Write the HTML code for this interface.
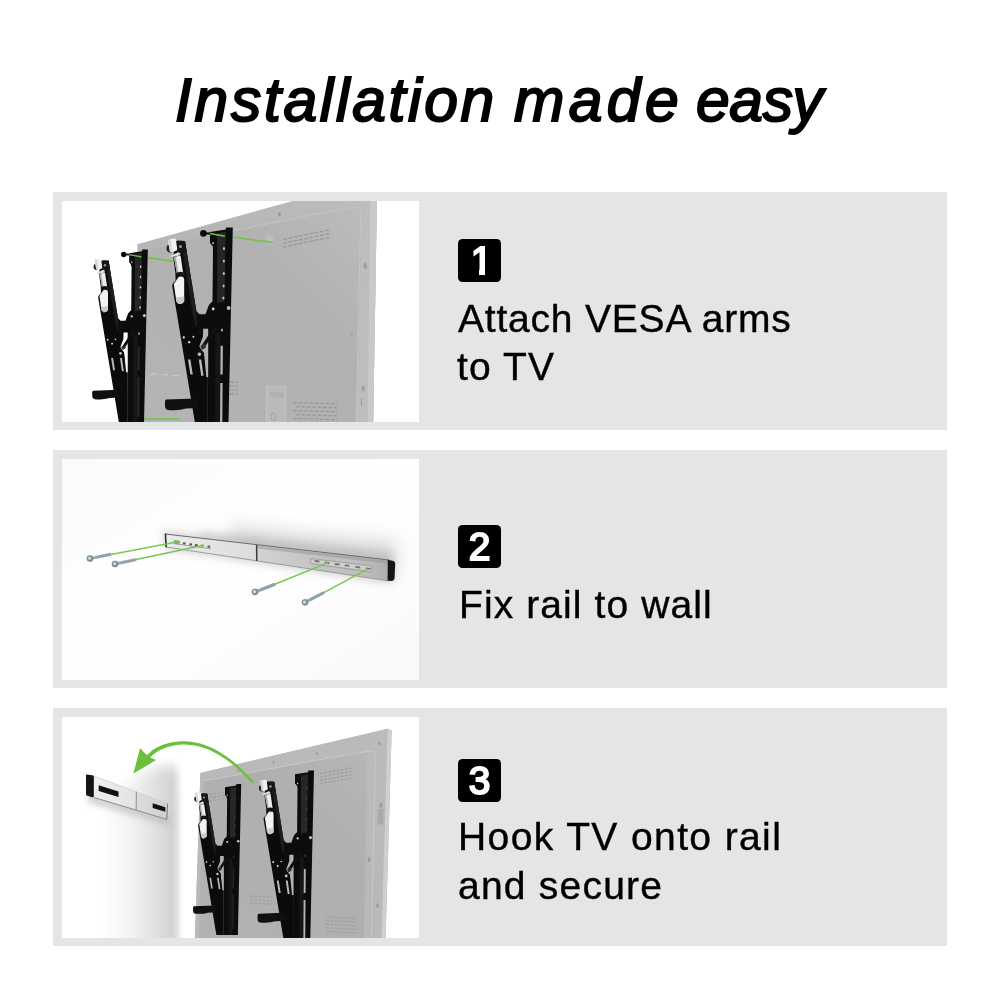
<!DOCTYPE html>
<html lang="en">
<head>
<meta charset="utf-8">
<title>Installation made easy</title>
<style>
html,body{margin:0;padding:0;background:#fff;}
body{width:1000px;height:1000px;position:relative;overflow:hidden;font-family:"Liberation Sans",sans-serif;color:#000;}
h1{margin:0;font-weight:400;font-size:65px;}
h1 span{will-change:transform;position:absolute;top:70px;font-style:italic;font-size:60.5px;line-height:1;white-space:nowrap;-webkit-text-stroke:2px #000;}
.panel{position:absolute;left:53px;width:893.5px;height:238px;background:#e4e5e7;}
.pic{position:absolute;left:62px;width:356.7px;height:220.8px;background:#fff;overflow:hidden;}
.badge{will-change:transform;position:absolute;left:458px;width:43px;height:43px;border-radius:4.5px;background:#000;color:#fff;font-weight:400;font-size:39px;line-height:43px;text-align:center;-webkit-text-stroke:2px #fff;}
.ln{will-change:transform;position:absolute;margin:0;font-size:39px;line-height:1;white-space:nowrap;-webkit-text-stroke:.4px #000;}
.b1{text-indent:4px;}
.b1::before,.b1::after{content:"";position:absolute;top:30px;height:9px;background:#000;}
.b1::before{left:6px;width:15.1px;}
.b1::after{left:27.4px;width:10px;}
svg{position:absolute;left:0;top:0;display:block;}
</style>
</head>
<body>
<h1><span style="left:174.6px;letter-spacing:2.73px">Installation</span><span style="left:513.6px;letter-spacing:4.4px">made</span><span style="left:696px;letter-spacing:-.33px">easy</span></h1>

<div class="panel" style="top:192px"></div>
<div class="panel" style="top:450px"></div>
<div class="panel" style="top:708px"></div>

<div class="pic" id="pic1" style="top:201px">
<!--PIC1--><svg width="356.7" height="220.8" viewBox="62 201 356.7 220.8">
<defs>
<linearGradient id="tv1" gradientUnits="userSpaceOnUse" x1="150" y1="420" x2="370" y2="205">
<stop offset="0" stop-color="#b4b4b4"/><stop offset=".6" stop-color="#b1b1b1"/><stop offset="1" stop-color="#bcbcbc"/>
</linearGradient>
<g id="arm">
 <!-- diagonal bar -->
 <path d="M173.6,254 L177.5,240.5 L185,241 L197,315 L204.2,353 L207.8,379 L207.8,440 L197.8,440 L175.4,305 L172.2,286 L172.6,284 L175.6,280.5 L175.4,273 L173.4,258 Z" fill="#0b0b0b"/>
 <path d="M180.6,241 L185,241 L197,315 L199,326 L195.4,326 L193,315 Z" fill="#1e1e1e"/>
 <!-- linkage -->
 <path d="M196.3,311 L199.5,314.2 L205.5,314.2 L208.5,306 L213,301 L213,345 L200.5,346 L197,330 Z" fill="#0d0d0d"/>
 <!-- vertical bar -->
 <path d="M210,232 L225.8,229.6 L226,227.5 L232.8,227.4 L228.1,440 L207.6,440 L207.8,312 L209,305 L212.5,301.5 L213,249 Q212.8,245 210,243 Z" fill="#0c0c0c"/>
 <path d="M217.2,233.2 L225.6,231.8 L224.6,302 L217,303 Z" fill="#262626"/>
 <path d="M215.5,332 L220.6,332 L220.2,440 L215,440 Z" fill="#161616"/>
 <!-- gap sliver showing TV -->
 <path d="M203.2,328.7 L208.2,328.7 L208.2,377 L206.3,377 L204.1,353 L202,350.5 L199.3,346.3 L203,336.5 Z" style="fill:var(--gap,#b3b3b3)"/>
 <path d="M217,325.5 L202.2,347.8" stroke="#111" stroke-width="3.6" fill="none"/>
 <!-- slots in vertical -->
 <path d="M220.6,345.8 L222.9,345.8 L222.7,374.6 L220.4,374.6 Z M220.3,383 L222.6,383 L222.3,432 L220,432 Z" style="fill:var(--slot,#b3b3b3)"/>
 <g style="fill:var(--hole,#c4c4c4)">
  <ellipse cx="224" cy="248.5" rx="1" ry="1.5"/><ellipse cx="223.9" cy="261" rx="1" ry="1.5"/><ellipse cx="223.8" cy="273.5" rx="1" ry="1.5"/><ellipse cx="223.6" cy="286" rx="1" ry="1.5"/><ellipse cx="223.4" cy="298" rx="1" ry="1.5"/>
  <ellipse cx="222" cy="330" rx=".9" ry="1.6"/>
 </g>
 <rect x="212.4" y="242.2" width="1.4" height="1.6" fill="#e8e8e8"/>
 <circle cx="228.6" cy="308" r="1.9" fill="#a8c4d2"/><circle cx="213.2" cy="309" r="1.4" fill="#cfd9de"/>
 <!-- diag details -->
 <path d="M188,359.6 L190.4,359.6 L192.8,374.6 L190.4,374.6 Z M198.8,359.6 L201.2,359.6 L203.6,375.8 L201.2,375.8 Z" fill="#b9b9b9"/>
 <circle cx="183.8" cy="337.4" r="1.1" fill="#eee"/><circle cx="189.2" cy="342.2" r="1.1" fill="#eee"/><circle cx="193.4" cy="336.8" r="1" fill="#ddd"/>
 <circle cx="199.4" cy="354.2" r="1.7" fill="#a5cbe0"/>
 <path d="M200.5,346 L204.5,343.5 L206,347.5 L202,350 Z" fill="#2e2e2e"/>
 <!-- foot -->
 <path d="M166.5,399.5 L196,398.4 L199,408 L186,408.6 Q179,411 168,410 Q165,409.6 165,405.5 L165,401.2 Q165,399.6 166.5,399.5 Z" fill="#101010"/>
 <!-- hook -->
 <path d="M175,241 L185,241 L186.6,252.5 L177,253 Z" fill="#161616"/>
 <path d="M167.6,245 Q165.6,248.5 167.2,251 Q169,253.2 171.6,252.2 L170.4,246 Z" fill="#222"/>
 <path d="M168.2,241.2 Q168,239.8 169.4,239.4 L174.2,238.4 Q175.6,238.2 175.9,239.6 L177.2,249 Q177.4,250.4 176,250.8 L171.4,252 Q170,252.2 169.7,250.8 Z" fill="#f0f0f0"/>
 <path d="M168.2,241.2 L169.7,250.8 Q170,252.2 171.4,252 L172.4,251.7 L170.6,239.2 L169.4,239.4 Q168,239.8 168.2,241.2 Z" fill="#d4d4d4"/>
 <circle cx="180.5" cy="246.5" r="1.5" fill="#9a9a9a"/>
 <path d="M170.4,256 L178,252.2 L180.6,253.2 L179.4,255.6 L171.8,257 Z" fill="#dcdcdc"/>
 <path d="M174,257 L180.6,255.4 L183.4,275 L177.2,275 Z" fill="#ededed"/>
 <path d="M174,257 L175.8,256.6 L178.8,275 L177.2,275 Z" fill="#a9a9a9"/>
 <path d="M176,273.4 Q179.4,270.6 183.4,272.6 L184.2,280 L176.4,281 Z" fill="#131313"/>
 <path d="M173.8,284 L178.6,277 Q181,276 183.6,277.4 L184.2,279.5 L184.2,301.5 Q182,304.4 178.8,304 L176.4,301.6 Z" fill="#f3f3f3"/>
 <path d="M175.8,297.5 L184.2,296.6 L184.2,301.5 Q182,304.4 178.8,304 L176.4,301.6 Z" fill="#c9c9c9"/>
</g>
<g id="bolt">
 <path d="M209.8,233.6 L225,236.3" stroke="#6cc644" stroke-width="1.5" fill="none"/>
 <circle cx="203.4" cy="233.4" r="3.3" fill="#0a0a0a"/><rect x="205.5" y="232.4" width="4.6" height="2.2" fill="#0a0a0a"/>
</g>
</defs>
<!-- TV -->
<path d="M137.6,244.2 L292.9,201 L376.9,201 L373.2,422 L137.6,422 Z" fill="url(#tv1)"/>
<path d="M137.6,244.2 L292.9,201 L376.9,201 L376.7,210 L360,206 L310,215.2 L234,230.4 L137.6,252 Z" fill="#bcbcbc" opacity=".5"/>
<path d="M360,206 Q361.8,208 361.6,214 L357,422 L373.2,422 L376.9,201 L340,201 Z" fill="#bdbdbd"/>
<path d="M370.3,201 L376.9,201 L373.2,422 L367.6,422 Z" fill="#c9c9c9"/>
<path d="M234,230.6 L310,215.4 L352,207.4 Q360.9,205.6 360.7,214 L356.2,422" fill="none" stroke="#c6c6c6" stroke-width=".9"/>
<!-- details on TV -->
<circle cx="269.5" cy="240" r="4.6" fill="#bcbcbc"/>
<ellipse cx="279.6" cy="214.2" rx="1.2" ry="1.8" fill="#8e8e8e"/>
<ellipse cx="365.3" cy="266" rx="1.8" ry="3.2" fill="#9f9f9f"/><ellipse cx="351.5" cy="333.5" rx="1.6" ry="2.8" fill="#a8a8a8"/><ellipse cx="363.2" cy="388.5" rx="1.6" ry="2.8" fill="#9f9f9f"/>
<rect x="361" y="398" width="1" height="8" fill="#999"/>
<g stroke="#999" stroke-width="1.3" stroke-dasharray="4 1.4" fill="none">
<path d="M283,239.6 L330,229.6"/><path d="M283,243.4 L330,233.4"/><path d="M283,247.2 L330,237.2"/>
<path d="M293,402.5 L337,403.8"/><path d="M296,406.5 L337,407.8"/><path d="M293,410.5 L337,411.8"/><path d="M296,414.5 L337,415.8"/><path d="M293,418.5 L337,419.8"/>
<path d="M230,382 L238,382.4"/><path d="M230,386 L238,386.4"/><path d="M230,390 L238,390.4"/><path d="M230,394 L238,394.4"/>
</g>
<path d="M266.5,386.5 L285.5,387 L285.5,422 L266.5,422 Z" fill="#bababa" stroke="#c6c6c6" stroke-width=".8"/>
<path d="M270,392 L284,392.6 L284,398 L270,397.4 Z" fill="#b0b0b0"/>
<ellipse cx="273.5" cy="417" rx="2.2" ry="4" fill="none" stroke="#a2a2a2" stroke-width="1"/>
<path d="M150,375.5 L153,373.5 L158,374.5 M161,375 L168,374.6 M171,375.5 L179,375.8" stroke="#d0d0d0" stroke-width="1.6" fill="none" opacity=".6"/>
<!-- green lines behind arms -->
<path d="M233,237.3 L273,242.4 M148,257.6 L173.5,261.2 M144.5,419 L180.4,419" stroke="#6cc644" stroke-width="1.6" fill="none"/>
<!-- arms -->
<g transform="translate(148 250) scale(.82) translate(-233 -228)" style="--gap:#fff;--slot:#2a2a2a"><use href="#arm"/><use href="#bolt"/></g>
<use href="#arm"/><use href="#bolt"/>
</svg>
<!--/PIC1-->
</div>
<div class="pic" id="pic2" style="top:459px">
<!--PIC2--><svg width="356.7" height="220.8" viewBox="62 459 356.7 220.8">
<defs>
<filter id="bl2" x="-20%" y="-100%" width="140%" height="300%"><feGaussianBlur stdDeviation="4"/></filter>
<filter id="bl2c" x="-20%" y="-150%" width="140%" height="400%"><feGaussianBlur stdDeviation="8"/></filter>
<filter id="bl2b" x="-20%" y="-100%" width="140%" height="300%"><feGaussianBlur stdDeviation="2"/></filter>
<linearGradient id="rail2" gradientUnits="userSpaceOnUse" x1="165" y1="0" x2="390" y2="0">
<stop offset="0" stop-color="#ececec"/><stop offset=".405" stop-color="#dcdcdc"/><stop offset=".41" stop-color="#d2d2d2"/><stop offset=".7" stop-color="#c2c2c2"/><stop offset=".9" stop-color="#bdbdbd"/><stop offset="1" stop-color="#acacac"/>
</linearGradient>
<linearGradient id="bg2" x1="0" y1="0" x2="1" y2="1"><stop offset="0" stop-color="#fbfbfb"/><stop offset=".5" stop-color="#fff"/><stop offset="1" stop-color="#f9f9f9"/></linearGradient>
<g id="screw2">
 <path d="M0,0 L21,-4.4" stroke="#9aa9b0" stroke-width="3" stroke-linecap="butt" fill="none"/>
 <path d="M7,-1.5 L21,-4.4" stroke="#7f8f97" stroke-width="3" stroke-dasharray="1 1" fill="none" opacity=".6"/>
 <circle cx="0" cy="0" r="3.3" fill="#7c8e98"/><circle cx="-.4" cy="-.4" r="1.6" fill="#c9d6dc"/>
</g>
</defs>
<rect x="62" y="459" width="357" height="221" fill="url(#bg2)"/>
<!-- shadows -->
<path d="M230,524 L396,540 L398,572 L230,548 Z" fill="#999" opacity=".3" filter="url(#bl2c)"/>
<path d="M163,531 L392,556 L396,580 L388,583 L165,549 Z" fill="#9a9a9a" opacity=".42" filter="url(#bl2)"/>
<path d="M200,530 L392,552 L392,562 L200,540 Z" fill="#aaa" opacity=".35" filter="url(#bl2)"/>
<!-- rail -->
<path d="M165,534 L389,560 L388,580.8 L166,547 Z" fill="url(#rail2)"/>
<path d="M257.6,547 L388.6,562.2" stroke="#8e8e8e" stroke-width="3" fill="none" opacity=".45"/>
<path d="M165,534 L389,560" stroke="#6a6a6a" stroke-width="1" fill="none"/>
<path d="M166,547 L388,580.8" stroke="#9c9c9c" stroke-width="1" fill="none"/>
<path d="M165.4,533.6 L166.2,547.2" stroke="#2e2e2e" stroke-width="1.6" fill="none"/>
<path d="M256.6,545 L256.8,561" stroke="#3a3a3a" stroke-width="1.5" fill="none"/>
<!-- end cap -->
<path d="M387.8,559.8 L393.5,561 Q395.2,561.5 395.2,563.5 L394.6,578 Q394.4,580.6 392,581 L387.6,580.8 Z" fill="#151515"/>
<!-- left holes -->
<path d="M173.8,543.6 L211,548.8" stroke="#8a8a8a" stroke-width=".8" fill="none"/>
<rect x="173.8" y="540.6" width="5.8" height="2.6" rx=".8" fill="#7fbf55" stroke="#777" stroke-width=".5" transform="rotate(6.6 176 542)"/>
<g fill="#555">
<rect x="183" y="542.4" width="2.6" height="2" transform="rotate(6.6 184 543)"/><rect x="189.4" y="543.2" width="2.6" height="2" transform="rotate(6.6 190 544)"/><rect x="195" y="544" width="2.6" height="2" transform="rotate(6.6 196 545)"/><rect x="207.6" y="545.6" width="2.6" height="2" transform="rotate(6.6 208 546)"/>
</g>
<rect x="200.8" y="544.4" width="3.4" height="2.2" fill="#7fbf55" transform="rotate(6.6 202 545)"/>
<!-- right holes -->
<path d="M311,558.6 L369,565.6 Q372.4,566 372.2,569 L372,570.4 Q371.6,572 369,571.6 L311.6,563.6 Q310.4,563.4 310.6,561.6 Z" fill="#cfcfcf" stroke="#8d8d8d" stroke-width=".7"/>
<g fill="#6e6e6e" stroke="#e6e6e6" stroke-width=".4">
<rect x="314.4" y="560" width="5.4" height="2.4" rx=".7" transform="rotate(7.6 317 561)"/><rect x="324.4" y="561.6" width="5.4" height="2.4" rx=".7" transform="rotate(7.6 327 563)"/><rect x="334.4" y="563" width="5.4" height="2.4" rx=".7" transform="rotate(7.6 337 564)"/><rect x="344.4" y="564.4" width="5.4" height="2.4" rx=".7" transform="rotate(7.6 347 565.6)"/><rect x="355.2" y="566" width="5.4" height="2.4" rx=".7" transform="rotate(7.6 358 567)"/><rect x="365.6" y="567.4" width="5.4" height="2.4" rx=".7" transform="rotate(7.6 368 568.6)"/>
</g>
<!-- green lines -->
<g stroke="#78c850" stroke-width="1.5" fill="none">
<path d="M111,554.4 L176.6,541.9"/><path d="M136,559.4 L202.6,545.5"/><path d="M273,585 L328,562.6"/><path d="M322,593.6 L368.4,568.6"/>
</g>
<!-- screws -->
<use href="#screw2" transform="translate(90 558.6)"/>
<use href="#screw2" transform="translate(115 564)"/>
<use href="#screw2" transform="translate(255 592) rotate(-9.3)"/>
<use href="#screw2" transform="translate(305 602.4) rotate(-15.6)"/>
</svg>
<!--/PIC2-->
</div>
<div class="pic" id="pic3" style="top:717px">
<!--PIC3--><svg width="356.7" height="220.8" viewBox="62 717 356.7 220.8">
<defs>
<filter id="bl3" x="-30%" y="-30%" width="160%" height="160%"><feGaussianBlur stdDeviation="3"/></filter>
<filter id="bl3b" x="-30%" y="-30%" width="160%" height="160%"><feGaussianBlur stdDeviation="6"/></filter>
<linearGradient id="wall3" gradientUnits="userSpaceOnUse" x1="100" y1="0" x2="184" y2="0">
<stop offset="0" stop-color="#fff"/><stop offset=".15" stop-color="#fbfbfb"/><stop offset=".3" stop-color="#f5f5f5"/><stop offset=".45" stop-color="#eeeeee"/><stop offset=".6" stop-color="#e5e5e5"/><stop offset=".75" stop-color="#dadada"/><stop offset=".86" stop-color="#d2d2d2"/><stop offset=".92" stop-color="#e2e2e2"/><stop offset=".97" stop-color="#f8f8f8"/><stop offset="1" stop-color="#fff"/>
</linearGradient>
<linearGradient id="wallm" gradientUnits="userSpaceOnUse" x1="0" y1="752" x2="0" y2="812"><stop offset="0" stop-color="#000"/><stop offset="1" stop-color="#fff"/></linearGradient>
<mask id="wm3" maskUnits="userSpaceOnUse" x="62" y="717" width="360" height="225"><path d="M90,960 L90,830 Q110,790 140,774 Q160,764 172,766 Q186,768 188,800 L188,960 Z" fill="#fff" filter="url(#bl3b)"/></mask>
<linearGradient id="rail3" gradientUnits="userSpaceOnUse" x1="93" y1="0" x2="168" y2="0">
<stop offset="0" stop-color="#f0f0f0"/><stop offset=".57" stop-color="#e3e3e3"/><stop offset=".58" stop-color="#dcdcdc"/><stop offset="1" stop-color="#cfcfcf"/>
</linearGradient>
<linearGradient id="tv3" gradientUnits="userSpaceOnUse" x1="200" y1="930" x2="385" y2="735">
<stop offset="0" stop-color="#b2b2b2"/><stop offset=".55" stop-color="#afafaf"/><stop offset="1" stop-color="#b8b8b8"/>
</linearGradient>
</defs>
<!-- wall shading -->
<g mask="url(#wm3)"><rect x="100" y="730" width="84" height="230" fill="url(#wall3)"/></g>
<!-- rail shadow -->
<path d="M88,790 L168,815 L170,826 L88,803 Z" fill="#aaa" opacity=".5" filter="url(#bl3)"/>
<!-- rail -->
<path d="M93.7,776 L168,803.6 L167,819.4 L93.7,797.4 Z" fill="url(#rail3)"/>
<path d="M93.7,797.4 L167,819.4" stroke="#8c8c8c" stroke-width="1" fill="none"/>
<path d="M93.7,776 L168,803.6" stroke="#cfcfcf" stroke-width=".8" fill="none"/>
<path d="M136.4,791.8 L136.2,810.2" stroke="#9a9a9a" stroke-width="1.2" fill="none"/>
<path d="M167.6,803.6 L166.8,819.4" stroke="#777" stroke-width="1" fill="none"/>
<path d="M86.6,774.6 L92.4,775.2 Q93.9,775.5 93.9,777 L93.8,796 Q93.7,797.6 92,797.2 L87.4,795.8 Q86,795.4 86,794 L86,775.6 Q86,774.6 86.6,774.6 Z" fill="#141414"/>
<path d="M98.7,785.2 L118.5,791.4 L118.5,797 L98.7,791 Z" fill="#111"/>
<path d="M152.7,803.2 L165.3,807.2 L165.3,811.8 L152.7,808.1 Z" fill="#111"/>
<!-- TV -->
<path d="M200.4,772.9 L387.6,728.7 L391.7,730.2 L385.6,938 L194.9,938 Z" fill="url(#tv3)"/>
<path d="M200.4,772.9 L387.6,728.7 L381.5,938 L371.4,938 L375.4,757 Q375.4,750.4 369,751.2 L330,757.8 L203.5,781 L198.5,938 L194.9,938 Z" fill="#bcbcbc" opacity=".8"/>
<path d="M367.4,752.4 L369,751.2 Q375.4,750.4 375.4,757 L371.4,938 L364,938 Z" fill="#bdbdbd" opacity=".7"/>
<path d="M387.6,728.7 L391.7,730.2 L385.6,938 L381.5,938 Z" fill="#cfcfcf"/>
<path d="M203.5,781 L330,757.8 L369,751.2 Q375.4,750.4 375.4,757 L371.4,938" fill="none" stroke="#c9c9c9" stroke-width=".9"/>
<g fill="#999"><ellipse cx="379.3" cy="743.4" rx="1" ry="1.7"/><ellipse cx="317" cy="753.6" rx=".9" ry="1.5"/><ellipse cx="273.6" cy="762.6" rx=".9" ry="1.5"/><ellipse cx="238" cy="770.8" rx=".8" ry="1.4"/><ellipse cx="381" cy="805.5" rx="1.3" ry="2.4"/><ellipse cx="369.1" cy="859.5" rx="1.4" ry="2.6"/><ellipse cx="377.5" cy="905.6" rx="1.2" ry="2.4"/></g>
<path d="M377.9,809 L383.5,809 L383.1,824.6 L377.5,824.6 Z" fill="#a9a9a9"/>
<g stroke="#a0a0a0" stroke-width="1.2" stroke-dasharray="3 1.2" fill="none">
<path d="M320,773.6 L353,767.6"/><path d="M320,777 L353,771"/><path d="M320,780.4 L353,774.4"/><path d="M320,783.8 L353,777.8"/>
<path d="M209,794.6 L227,791.6"/><path d="M209,798 L227,795"/><path d="M209,801.4 L227,798.4"/>
<path d="M326,917 L357,918.6"/><path d="M326,920.6 L357,922.2"/><path d="M326,924.2 L357,925.8"/><path d="M326,927.8 L357,929.4"/><path d="M326,931.4 L357,933"/>
<path d="M250,896 L272,897"/><path d="M250,899.6 L272,900.6"/><path d="M250,903.2 L272,904.2"/>
</g>
<!-- arms -->
<use href="#arm" style="--gap:#b3b3b3;--slot:#222;--hole:#3c3c3c" transform="translate(241.2 784) scale(.71) translate(-232.8 -227.4)"/>
<use href="#arm" style="--gap:#b3b3b3;--slot:#b3b3b3;--hole:#3c3c3c" transform="translate(314 770.5) scale(.832) translate(-232.8 -227.4)"/>
<!-- arrow -->
<path d="M253.9,781.7 L251.2,779.0 L248.5,776.1 L245.8,773.3 L243.1,770.5 L240.4,767.9 L237.8,765.5 L235.4,763.3 L233.0,761.4 L230.7,759.6 L228.4,757.9 L226.1,756.3 L223.8,754.7 L221.4,753.2 L219.1,751.8 L216.7,750.4 L214.3,749.1 L212.0,747.9 L209.6,746.8 L207.2,745.9 L204.8,745.0 L202.4,744.2 L200.1,743.5 L197.7,742.9 L195.3,742.4 L192.9,742.0 L190.5,741.7 L188.1,741.4 L185.7,741.2 L183.3,741.2 L180.9,741.2 L178.5,741.4 L176.0,741.7 L173.5,742.1 L171.1,742.5 L168.7,743.1 L166.5,743.7 L164.4,744.3 L162.3,745.1 L160.3,745.9 L158.4,746.8 L156.6,747.7 L154.8,748.7 L153.1,749.8 L151.6,751.0 L150.2,752.2 L148.9,753.4 L147.6,754.6 L146.3,755.7 L148.9,758.7 L150.2,757.5 L151.5,756.2 L152.8,755.0 L154.1,753.9 L155.4,752.9 L156.8,751.9 L158.4,751.0 L160.0,750.1 L161.8,749.3 L163.6,748.5 L165.5,747.8 L167.5,747.1 L169.6,746.5 L171.8,746.0 L174.1,745.5 L176.5,745.1 L178.8,744.8 L181.1,744.6 L183.3,744.5 L185.6,744.5 L187.9,744.7 L190.1,744.9 L192.4,745.2 L194.7,745.6 L197.0,746.0 L199.3,746.6 L201.6,747.2 L203.8,747.9 L206.1,748.7 L208.4,749.6 L210.7,750.6 L213.0,751.7 L215.3,752.9 L217.6,754.2 L219.9,755.6 L222.2,757.1 L224.5,758.6 L226.8,760.1 L229.1,761.7 L231.4,763.4 L233.7,765.3 L236.2,767.3 L238.7,769.7 L241.4,772.2 L244.1,774.9 L246.8,777.7 L249.6,780.5 L252.3,783.3 Z" fill="#6abf3b"/>
<path d="M133.4,773.4 L140.1,748.2 L148.1,756.6 L156.1,760.1 Z" fill="#6abf3b"/>
</svg>
<!--/PIC3-->
</div>

<div class="badge b1" style="top:239px">1</div>
<p class="ln" style="left:458.4px;top:299px;letter-spacing:.8px">Attach VESA arms</p>
<p class="ln" style="left:457.4px;top:347.4px;letter-spacing:1.1px">to TV</p>

<div class="badge" style="top:525.4px">2</div>
<p class="ln" style="left:458.8px;top:584.8px;letter-spacing:1.1px">Fix rail to wall</p>

<div class="badge" style="top:759px">3</div>
<p class="ln" style="left:458px;top:817px;letter-spacing:1.39px">Hook TV onto rail</p>
<p class="ln" style="left:458px;top:866px;letter-spacing:1.22px">and secure</p>
</body>
</html>
